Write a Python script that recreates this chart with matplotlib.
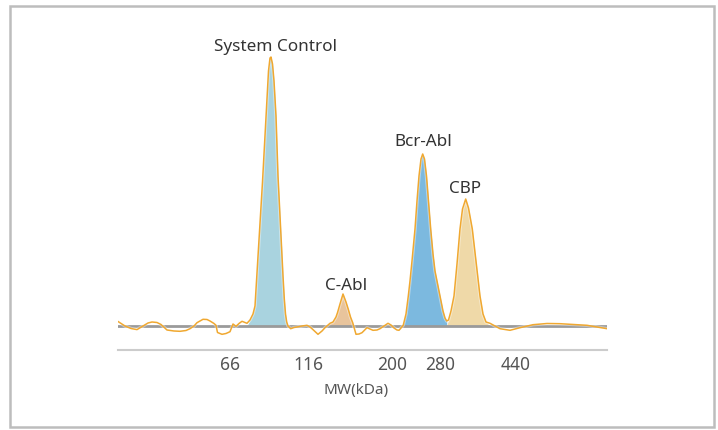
import numpy as np
import matplotlib.pyplot as plt
import matplotlib.patheffects as pe
from matplotlib.patches import Rectangle

plt.rcParams["font.family"] = ["Noto Sans", "DejaVu Sans"]

# migration position (arbitrary units) and signal above baseline
position = [0, 7, 13, 19, 25, 30, 34, 39, 43, 49, 56, 62, 68, 72, 76, 79, 85, 89,
            92, 96, 98, 99.5, 104, 108, 112, 115, 118, 121, 124, 127, 129, 132,
            135, 137, 140, 142, 144.5, 147, 149, 150.5, 152, 153, 154.5, 156, 158,
            160, 162, 163.7, 165, 166.3, 167.5, 168.7, 170, 172.7, 176, 179, 184,
            189, 192, 194, 197, 200, 204, 207, 212, 215, 218, 219.5, 222, 225,
            226.5, 228, 230.3, 232.5, 234.7, 236.5, 238, 241, 244, 249, 252, 255,
            259, 262, 266, 270, 273, 276, 279, 281, 283, 285.3, 288, 290.3, 292,
            294, 297, 299, 301, 303, 304.7, 306.5, 308.5, 310.5, 312.7, 315, 317,
            319, 322, 325, 327, 328.7, 330.5, 333, 336, 339, 342, 344.5, 347.7,
            350.5, 354.3, 358, 362, 365, 368, 372, 377, 382, 392, 402, 415, 429,
            442, 455, 469, 479, 489]
signal = [4.5, 0, -2.5, -3.6, 0, 3, 4, 3.5, 1.5, -4, -5, -5.3, -4.5, -2.7, 0, 3.3,
          6.7, 6.5, 5, 2.5, 0.7, -6.5, -8.3, -7.5, -5.7, 2, -0.3, 2.5, 4.7, 3.5,
          2.7, 6, 12, 20, 70, 105, 144, 190, 228, 255, 268, 269, 262, 245, 210,
          150, 110, 77, 50, 27, 12, 4, 0, -2.7, -1.5, -1, 0, 0.7, -1, -2.7, -5.5,
          -8.3, -5, -1.7, 2.7, 4, 9, 13.3, 22, 32, 28, 24, 16.7, 9, 3.3, -3, -8.3,
          -8, -6.7, -1.7, -3, -4.3, -4, -2.7, 0, 2.7, 1, -2, -4, -4.3, -2, 1, 12,
          30, 45, 65, 97, 125, 150, 167, 172, 167, 150, 125, 97, 72, 55, 45, 30,
          15, 8, 5, 6, 15, 30, 62, 97, 117, 127, 118, 97, 65, 30, 12, 4, 2.7, 0,
          -2.7, -4.3, -1.7, 1.3, 2.5, 2.3, 1.5, 0.7, -1, -2.7]

peak_names = ["System Control", "C-Abl", "Bcr-Abl", "CBP"]
peak_start = [131, 209, 285, 330]
peak_end = [170, 237, 329, 369]
peak_colors = ["#a9d3df", "#e8c49c", "#7cb9df", "#efd9a8"]
label_x = [158, 228, 305, 347.5]
label_y = [276, 37, 181, 134]

tick_pos = [112, 190, 274, 322, 398]
tick_labels = ["66", "116", "200", "280", "440"]

x = np.array(position, dtype=float)
y = np.array(signal, dtype=float)

fig = plt.figure(figsize=(7.18, 4.31), dpi=100)
fig.patches.append(Rectangle((10 / 718, 3 / 431), 704 / 718, 421 / 431,
                             transform=fig.transFigure, fill=False,
                             edgecolor="#bdbdbd", linewidth=1.8))
ax = fig.add_axes([118 / 718, 80 / 431, 489 / 718, 299 / 431])

for a, b, c in zip(peak_start, peak_end, peak_colors):
    mask = (x >= a) & (x <= b)
    ax.fill_between(x, 0, np.clip(y, 0, None), where=mask, color=c,
                    linewidth=0, interpolate=True)

ax.axhline(0, color="#9a9a9a", linewidth=2, zorder=2)
ax.plot(x, y, color="#f0a830", linewidth=1.1, zorder=3,
        path_effects=[pe.Stroke(linewidth=2.5, foreground="white", alpha=0.4),
                      pe.Normal()])

for name, lx, ly in zip(peak_names, label_x, label_y):
    ax.text(lx, ly, name, ha="center", va="baseline", fontsize=12.3,
            color="#333333", clip_on=False)

ax.set_xlim(0, 489)
ax.set_ylim(-24, 275)
ax.set_yticks([])
ax.set_xticks(tick_pos)
ax.set_xticklabels(tick_labels)
ax.tick_params(axis="x", length=0, pad=3.5, labelsize=12.5, labelcolor="#555555")
for s in ["top", "right", "left"]:
    ax.spines[s].set_visible(False)
ax.spines["bottom"].set_color("#cccccc")
ax.spines["bottom"].set_linewidth(1.5)
ax.set_xlabel("MW(kDa)", fontsize=11, color="#555555")
ax.xaxis.set_label_coords((356 - 118) / 489, -0.108)
ax.patch.set_alpha(0)

fig.savefig("out.png", dpi=100)
